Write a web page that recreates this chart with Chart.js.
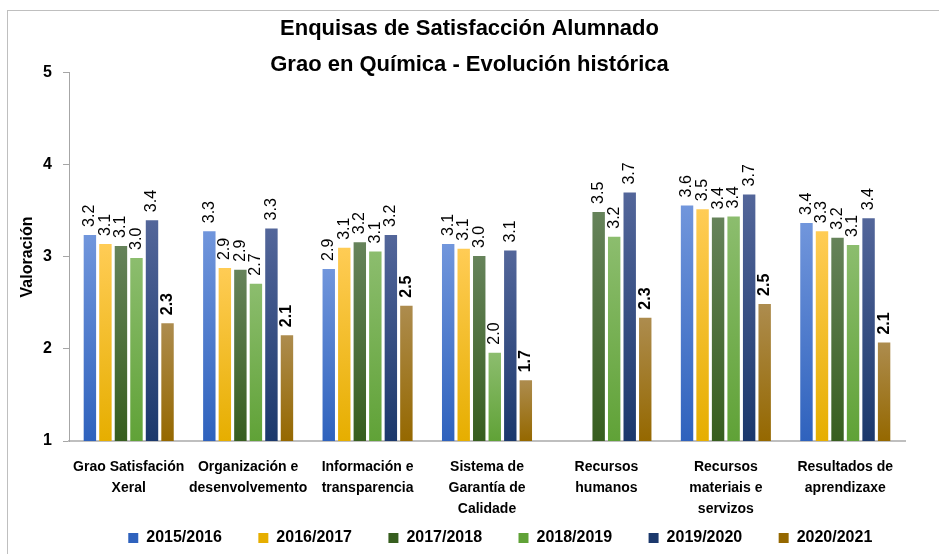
<!DOCTYPE html>
<html>
<head>
<meta charset="utf-8">
<title>Enquisas de Satisfacción Alumnado</title>
<script src="https://cdn.jsdelivr.net/npm/chart.js@4.4.1/dist/chart.umd.min.js"></script>
<style>
  html, body { margin: 0; padding: 0; background: #fff; overflow: hidden; }
  #wrap { position: relative; width: 939px; height: 554px; overflow: hidden; }
  #frame { position: absolute; left: 7px; top: 10px; width: 960px; height: 580px;
           border-top: 1px solid #bfbfbf; border-left: 1px solid #bfbfbf; }
  canvas { position: absolute; left: 0; top: 0; }
</style>
</head>
<body>
<div id="wrap">
  <div id="frame"></div>
  <canvas id="myChart" width="939" height="554"></canvas>
</div>
<script>
const categories = [
  ["Grao Satisfación", "Xeral"],
  ["Organización e", "desenvolvemento"],
  ["Información e", "transparencia"],
  ["Sistema de", "Garantía de", "Calidade"],
  ["Recursos", "humanos"],
  ["Recursos", "materiais e", "servizos"],
  ["Resultados de", "aprendizaxe"],
];
const cursos = ["2015/2016", "2016/2017", "2017/2018", "2018/2019", "2019/2020", "2020/2021"];

// valoracións por curso (orde das categorías)
const v2015 = [3.24, 3.28, 2.87, 3.14, null, 3.56, 3.37];
const v2016 = [3.14, 2.88, 3.10, 3.09, null, 3.52, 3.28];
const v2017 = [3.12, 2.86, 3.16, 3.01, 3.49, 3.43, 3.21];
const v2018 = [2.99, 2.71, 3.06, 1.96, 3.22, 3.44, 3.13];
const v2019 = [3.40, 3.31, 3.24, 3.07, 3.70, 3.68, 3.42];
const v2020 = [2.28, 2.15, 2.47, 1.66, 2.34, 2.49, 2.07];
const yTicks = [1, 2, 3, 4, 5];

const series = [v2015, v2016, v2017, v2018, v2019, v2020];

const FONT = "'Liberation Sans Narrow', 'Arial Narrow', 'Liberation Sans', Arial, sans-serif";
const topColors = ["#7196dc", "#ffcc55", "#66835a", "#8cbd6e", "#53669a", "#ad8c4e"];
const midColors = ["#4472c4", "#ffc000", "#43682b", "#70ad47", "#264478", "#9e7514"];
const bottomColors = ["#2f62bd", "#e6ae00", "#375e1f", "#60a237", "#1b386c", "#956800"];

// degradado vertical por barra
function barFill(i) {
  return (ctx) => {
    const chart = ctx.chart;
    const area = chart.chartArea;
    if (!area || ctx.raw == null || !chart.scales.y) return midColors[i];
    const top = chart.scales.y.getPixelForValue(ctx.raw);
    const g = chart.ctx.createLinearGradient(0, top, 0, area.bottom);
    g.addColorStop(0, topColors[i]);
    g.addColorStop(1, bottomColors[i]);
    return g;
  };
}

// etiquetas de valor rotadas enriba de cada barra
const valueLabels = {
  id: "valueLabels",
  afterDatasetsDraw(chart) {
    const ctx = chart.ctx;
    chart.data.datasets.forEach((ds, i) => {
      const meta = chart.getDatasetMeta(i);
      if (meta.hidden) return;
      meta.data.forEach((bar, j) => {
        const v = ds.data[j];
        if (v == null) return;
        ctx.save();
        ctx.translate(bar.x, bar.y - 8);
        ctx.rotate(-Math.PI / 2);
        ctx.font = (i === series.length - 1 ? "bold " : "") + "16px 'Liberation Sans', Arial, sans-serif";
        ctx.fillStyle = "#000";
        ctx.textAlign = "left";
        ctx.textBaseline = "middle";
        ctx.fillText(v.toFixed(1), 0, 0);
        ctx.restore();
      });
    });
  },
};

const ctx = document.getElementById("myChart");
new Chart(ctx, {
  type: "bar",
  data: {
    labels: categories,
    datasets: cursos.map((label, i) => ({
      label,
      data: series[i],
      backgroundColor: barFill(i),
      borderWidth: 0,
      categoryPercentage: 0.78,
      barPercentage: 0.8,
    })),
  },
  plugins: [valueLabels],
  options: {
    responsive: false,
    animation: false,
    devicePixelRatio: 1,
    layout: { padding: { left: 0, right: 0, top: 0, bottom: -2 } },
    plugins: {
      title: {
        display: true,
        text: ["Enquisas de Satisfacción Alumnado", "Grao en Química - Evolución histórica"],
        color: "#000",
        font: { family: FONT, size: 22, weight: "bold", lineHeight: 1.62 },
        padding: { top: 11, bottom: -9.3 },
      },
      legend: {
        position: "bottom",
        labels: {
          color: "#000",
          font: { family: FONT, size: 16, weight: "bold" },
          boxWidth: 10,
          boxHeight: 10,
          padding: 8,
          generateLabels(chart) {
            const items = Chart.defaults.plugins.legend.labels.generateLabels(chart);
            // espazos finais para separar os elementos como no orixinal
            items.forEach((it) => { it.text = it.text + "\u2002\u2002\u2002 "; });
            // separador invisible para desprazar a lenda á dereita
            items.unshift({ text: "\u2003\u2003\u2003\u2003", fillStyle: "rgba(0,0,0,0)", strokeStyle: "rgba(0,0,0,0)", lineWidth: 0, hidden: false });
            return items;
          },
        },
      },
      tooltip: { enabled: false },
    },
    scales: {
      x: {
        grid: { display: false, drawTicks: false },
        border: { display: true, color: "#bfbfbf", width: 2 },
        ticks: {
          color: "#000",
          font: { family: FONT, size: 14, weight: "bold", lineHeight: 1.5 },
          padding: 16,
          maxRotation: 0,
          autoSkip: false,
        },
        afterFit(scale) { scale.height = 81; },
      },
      y: {
        min: yTicks[0],
        max: yTicks[yTicks.length - 1],
        ticks: {
          stepSize: 1,
          color: "#000",
          font: { family: FONT, size: 16, weight: "bold" },
          padding: 11,
        },
        grid: { drawOnChartArea: false, drawTicks: true, tickLength: 6, color: "#a6a6a6" },
        border: { color: "#a6a6a6", width: 1 },
        title: {
          display: true,
          text: "Valoración",
          color: "#000",
          font: { family: FONT, size: 16, weight: "bold" },
          padding: { top: 18, bottom: 0 },
        },
        afterFit(scale) { scale.width = 69; },
      },
      yRight: {
        type: "linear",
        position: "right",
        display: true,
        grid: { display: false },
        border: { display: false },
        ticks: { display: false },
        afterFit(scale) { scale.width = 34; },
      },
    },
  },
});
</script>
</body>
</html>
